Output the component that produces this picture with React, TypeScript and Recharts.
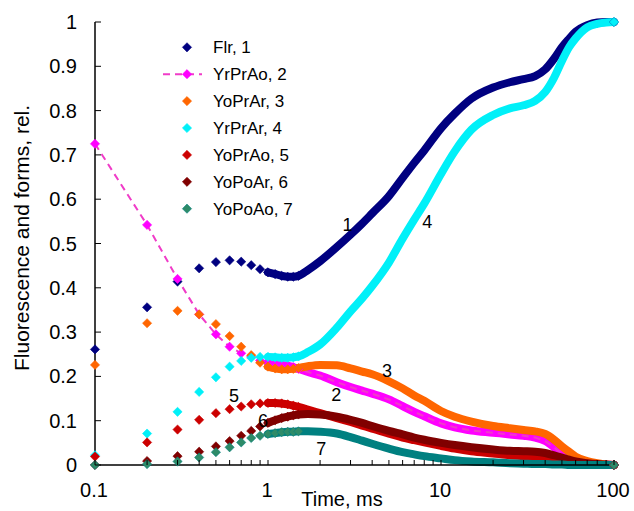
import React from 'react';
import { ComposedChart, Line, XAxis, YAxis, Legend, ReferenceDot } from 'recharts';

// Time, ms
const times = [
  0.1, 0.2, 0.3, 0.4, 0.5, 0.6, 0.7, 0.8, 0.9, 1.0, 1.1, 1.2, 1.3, 1.4, 1.5,
  1.7, 2, 2.5, 3, 3.5, 4, 5, 6, 7, 8, 10, 12, 15, 20, 25, 30, 35, 40, 45, 50, 55, 60, 70, 80, 90, 100,
];

const flr = [
  0.261, 0.356, 0.414, 0.444, 0.458, 0.462, 0.459, 0.451, 0.442, 0.435, 0.431, 0.427, 0.425, 0.425, 0.427,
  0.44, 0.46, 0.492, 0.52, 0.545, 0.568, 0.607, 0.648, 0.682, 0.71, 0.76, 0.793, 0.827, 0.852, 0.864, 0.871,
  0.878, 0.893, 0.917, 0.943, 0.962, 0.978, 0.993, 0.999, 1.0, 1.0,
];
const yrPrAo = [
  0.725, 0.542, 0.42, 0.34, 0.295, 0.267, 0.252, 0.244, 0.236, 0.231, 0.228, 0.226, 0.224, 0.221, 0.217,
  0.21, 0.202, 0.187, 0.176, 0.168, 0.161, 0.148, 0.133, 0.12, 0.11, 0.094, 0.085, 0.078, 0.073, 0.069, 0.066,
  0.062, 0.054, 0.04, 0.025, 0.012, 0.008, 0.004, 0.002, 0.001, 0,
];
const yoPrAr = [
  0.226, 0.32, 0.348, 0.34, 0.318, 0.291, 0.267, 0.248, 0.231, 0.222, 0.218, 0.216, 0.216, 0.217, 0.219,
  0.223, 0.226, 0.225, 0.218, 0.211, 0.205, 0.189, 0.173, 0.157, 0.145, 0.122, 0.109, 0.098, 0.088, 0.083, 0.079,
  0.076, 0.07, 0.057, 0.042, 0.03, 0.019, 0.009, 0.004, 0.001, 0,
];
const yrPrAr = [
  0.022, 0.071, 0.12, 0.165, 0.198, 0.222, 0.235, 0.242, 0.244, 0.244, 0.243, 0.242, 0.242, 0.243, 0.245,
  0.255, 0.272, 0.31, 0.347, 0.376, 0.404, 0.457, 0.511, 0.554, 0.59, 0.657, 0.708, 0.757, 0.79, 0.805, 0.812,
  0.822, 0.842, 0.874, 0.912, 0.943, 0.963, 0.988, 0.996, 0.999, 1.0,
];
const yoPrAo = [
  0.019, 0.051, 0.08, 0.102, 0.117, 0.126, 0.132, 0.137, 0.139, 0.14, 0.14, 0.139, 0.137, 0.134, 0.131,
  0.125, 0.117, 0.106, 0.097, 0.089, 0.082, 0.071, 0.062, 0.056, 0.051, 0.043, 0.037, 0.031, 0.026, 0.022, 0.02,
  0.018, 0.016, 0.013, 0.01, 0.007, 0.005, 0.003, 0.001, 0, 0,
];
const yoPoAr = [
  0.0, 0.009, 0.02, 0.03, 0.042, 0.054, 0.066, 0.077, 0.087, 0.095, 0.101, 0.106, 0.109, 0.112, 0.114,
  0.115, 0.114, 0.109, 0.102, 0.095, 0.088, 0.077, 0.069, 0.062, 0.057, 0.05, 0.045, 0.04, 0.035, 0.032, 0.031,
  0.03, 0.027, 0.022, 0.017, 0.012, 0.008, 0.004, 0.002, 0.001, 0,
];
const yoPoAo = [
  0.0, 0.002, 0.008, 0.017, 0.029, 0.04, 0.051, 0.061, 0.066, 0.07, 0.072, 0.074, 0.075, 0.075, 0.076,
  0.076, 0.075, 0.071, 0.063, 0.055, 0.048, 0.037, 0.029, 0.024, 0.02, 0.015, 0.011, 0.008, 0.006, 0.004, 0.003,
  0.002, 0.002, 0.001, 0.001, 0, 0, 0, 0, 0, 0,
];

const seriesNames = ['Flr, 1', 'YrPrAo, 2', 'YoPrAr, 3', 'YrPrAr, 4', 'YoPrAo, 5', 'YoPoAr, 6', 'YoPoAo, 7'];
const seriesValues = [flr, yrPrAo, yoPrAr, yrPrAr, yoPrAo, yoPoAr, yoPoAo];
const seriesColors = ['#000080', '#FF00FF', '#FF6600', '#00F0F8', '#CC0000', '#800000', '#008080'];
const markerColors = ['#000080', '#FF00FF', '#FF6600', '#00F0F8', '#CC0000', '#800000', '#2E8B68'];

const xMajorTicks = [0.1, 1, 10, 100];
const xAllTicks = [
  0.1, 0.2, 0.3, 0.4, 0.5, 0.6, 0.7, 0.8, 0.9, 1, 2, 3, 4, 5, 6, 7, 8, 9, 10,
  20, 30, 40, 50, 60, 70, 80, 90, 100,
];
const yTicks = [0, 0.1, 0.2, 0.3, 0.4, 0.5, 0.6, 0.7, 0.8, 0.9, 1];
const yTickLabels = ['0', '0.1', '0.2', '0.3', '0.4', '0.5', '0.6', '0.7', '0.8', '0.9', '1'];

// curve labels (data coordinates)
const annotTexts = ['1', '2', '3', '4', '5', '6', '7'];
const annotT = [2.88, 2.48, 4.88, 8.34, 0.637, 0.935, 2.03];
const annotV = [0.542, 0.158, 0.214, 0.549, 0.156, 0.1, 0.036];

const rows = times.map((t, i) => {
  const r: any = { t };
  seriesValues.forEach((arr, k) => {
    r['s' + k] = arr[i];
  });
  return r;
});

const FONT = '"Liberation Sans", Arial, Helvetica, sans-serif';

const makeDot = (fill: string, stroke: string) => (props: any) => {
  const { cx, cy, payload, index } = props;
  const t = payload ? payload.t : undefined;
  if (cx == null || cy == null || t == null || !(t <= 1.5 || t === 100)) {
    return <g key={'n' + index} />;
  }
  const r = 4.6;
  return (
    <path
      key={'d' + index}
      d={`M${cx},${cy - r}L${cx + r},${cy}L${cx},${cy + r}L${cx - r},${cy}Z`}
      fill={fill}
      stroke={stroke}
      strokeWidth={0.6}
    />
  );
};

const XTick = (props: any) => {
  const { x, y, payload } = props;
  const v = payload.value;
  const isMajor = xMajorTicks.some((m) => Math.abs(m - v) < 1e-9);
  return (
    <g>
      <line x1={x} x2={x} y1={y} y2={y - 5} stroke="#000" strokeWidth={1} />
      {isMajor && (
        <text x={x - 1} y={y + 32} textAnchor="middle" fontSize={20} fontFamily={FONT} fill="#000">
          {String(v)}
        </text>
      )}
    </g>
  );
};

const YTick = (props: any) => {
  const { x, y, payload, index } = props;
  return (
    <g>
      <line x1={x} x2={x + 6} y1={y} y2={y} stroke="#000" strokeWidth={1} />
      <text x={x - 18} y={y + 7} textAnchor="end" fontSize={20} fontFamily={FONT} fill="#000">
        {yTickLabels[index] ?? String(payload.value)}
      </text>
    </g>
  );
};

const LegendBox = () => {
  return (
    <svg width={230} height={200} style={{ display: 'block', overflow: 'visible' }}>
      {seriesNames.map((name, k) => {
        const cy = 17.3 + 26.9 * k;
        const cx = 37;
        const r = 4.6;
        return (
          <g key={name}>
            {k === 1 && (
              <line x1={13} x2={52} y1={cy} y2={cy} stroke="#F03CC8" strokeWidth={2} strokeDasharray="7 5" />
            )}
            <path
              d={`M${cx},${cy - r}L${cx + r},${cy}L${cx},${cy + r}L${cx - r},${cy}Z`}
              fill={markerColors[k]}
              stroke={seriesColors[k]}
              strokeWidth={0.6}
            />
            <text x={63} y={cy + 6} fontSize={17} fontFamily={FONT} fill="#000">
              {name}
            </text>
          </g>
        );
      })}
    </svg>
  );
};

export default function App() {
  return (
    <div style={{ width: 634, height: 511, background: '#fff', position: 'relative' }}>
      <style>{`body{margin:0;background:#fff}`}</style>
      <ComposedChart
        width={634}
        height={511}
        data={rows}
        margin={{ top: 22, right: 20, bottom: 0, left: 0 }}
        style={{ fontFamily: FONT }}
      >
        <XAxis
          dataKey="t"
          type="number"
          scale="log"
          domain={[0.1, 100]}
          ticks={xAllTicks}
          interval={0}
          tick={<XTick />}
          tickLine={false}
          tickSize={0}
          tickMargin={0}
          height={46}
          axisLine={{ stroke: '#000', strokeWidth: 1.5 }}
          label={{
            content: () => (
              <text x={342} y={506} textAnchor="middle" fontSize={20} fontFamily={FONT} fill="#000">
                Time, ms
              </text>
            ),
          }}
        />
        <XAxis
          xAxisId="top"
          dataKey="t"
          type="number"
          scale="log"
          domain={[0.1, 100]}
          orientation="top"
          height={0}
          tick={false}
          tickLine={false}
          axisLine={{ stroke: '#000', strokeWidth: 1.5 }}
        />
        <YAxis
          type="number"
          domain={[0, 1]}
          ticks={yTicks}
          interval={0}
          width={95}
          tick={<YTick />}
          tickLine={false}
          tickSize={0}
          tickMargin={0}
          axisLine={{ stroke: '#000', strokeWidth: 1.5 }}
          label={{
            content: () => (
              <text
                x={0}
                y={0}
                transform="translate(21 238) rotate(-90)"
                textAnchor="middle"
                dominantBaseline="central"
                fontSize={21}
                fontFamily={FONT}
                fill="#000"
              >
                Fluorescence and forms, rel.
              </text>
            ),
          }}
        />
        <YAxis
          yAxisId="right"
          orientation="right"
          type="number"
          domain={[0, 1]}
          width={0}
          tick={false}
          tickLine={false}
          axisLine={{ stroke: '#000', strokeWidth: 1.5 }}
        />
        <Legend
          layout="vertical"
          align="center"
          verticalAlign="middle"
          content={() => <LegendBox />}
          wrapperStyle={{ position: 'absolute', left: 150, top: 30, width: 230, height: 200 }}
        />
        {seriesValues.map((_, k) => [
          <Line
            key={'band' + k}
            dataKey={(d: any) => (d.t >= 1 ? d['s' + k] : null)}
            type="monotone"
            stroke={seriesColors[k]}
            strokeWidth={8}
            strokeLinecap="round"
            strokeLinejoin="round"
            dot={false}
            activeDot={false}
            legendType="none"
            isAnimationActive={false}
          />,
          <Line
            key={'mark' + k}
            dataKey={'s' + k}
            name={seriesNames[k]}
            type="linear"
            stroke={k === 1 ? '#F03CC8' : 'none'}
            strokeWidth={k === 1 ? 2 : 0}
            strokeDasharray={k === 1 ? '7 5' : undefined}
            dot={makeDot(markerColors[k], seriesColors[k])}
            activeDot={false}
            isAnimationActive={false}
          />,
        ])}
        {annotTexts.map((txt, i) => (
          <ReferenceDot
            key={'a' + i}
            x={annotT[i]}
            y={annotV[i]}
            r={0}
            fill="none"
            stroke="none"
            label={{ value: txt, position: 'center', fontSize: 18, fill: '#000', fontFamily: FONT }}
          />
        ))}
      </ComposedChart>
    </div>
  );
}
